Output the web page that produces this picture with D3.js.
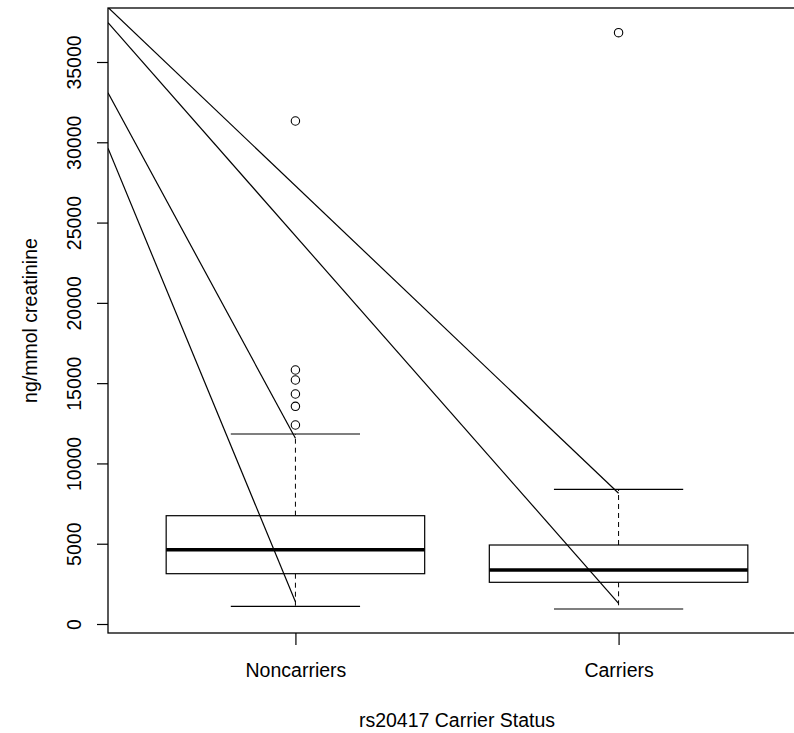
<!DOCTYPE html>
<html><head><meta charset="utf-8">
<script src="https://cdn.jsdelivr.net/npm/d3@7"></script>
<style>body{margin:0;background:#fff}svg{display:block}text{font-family:"Liberation Sans",Arial,sans-serif;fill:#000}</style>
</head><body><svg id="c" width="794" height="733"></svg>
<script>
const categories = ["Noncarriers","Carriers"];
const lowerWhisker = [1100, 934];
const q1 = [3133, 2597];
const median = [4627, 3363];
const q3 = [6745, 4920];
const upperWhisker = [11833, 8389];
const outliers = [[12393, 13558, 14324, 15196, 15819, 31326], [36825]];
const yTicks = [0, 5000, 10000, 15000, 20000, 25000, 30000, 35000];
const lineStarts = [38400, 37448, 33089, 29626];
const lineEndCats = ["Carriers", "Carriers", "Noncarriers", "Noncarriers"];
const lineEnds = [8140, 1289, 11565, 1389];
const yTitle = "ng/mmol creatinine";
const xTitle = "rs20417 Carrier Status";

const FS = "19.5px";
const svg = d3.select("#c");
const L = 108, R = 806, T = 8, B = 633;
const x = d3.scalePoint().domain(categories).range([L, R]).padding(0.58);
const y = d3.scaleLinear().domain([-560, 38363]).range([B, T]);
const step = x.step();

svg.append("defs").append("clipPath").attr("id","clip")
  .append("rect").attr("x",L).attr("y",T).attr("width",R-L).attr("height",B-T);

const g = svg.append("g");
const bx = g.append("g");
categories.forEach((c,i)=>{
  const cx = x(c);
  bx.append("line").attr("x1",cx).attr("x2",cx).attr("y1",y(q3[i])).attr("y2",y(upperWhisker[i]))
    .attr("stroke","#000").attr("stroke-dasharray","5,4");
  bx.append("line").attr("x1",cx).attr("x2",cx).attr("y1",y(q1[i])).attr("y2",y(lowerWhisker[i]))
    .attr("stroke","#000").attr("stroke-dasharray","5,4");
  [lowerWhisker[i], upperWhisker[i]].forEach(v=>{
    bx.append("line").attr("x1",cx-0.2*step).attr("x2",cx+0.2*step).attr("y1",y(v)).attr("y2",y(v))
      .attr("stroke","#000").attr("stroke-width",1.2);
  });
  bx.append("rect").attr("x",cx-0.4*step).attr("width",0.8*step)
    .attr("y",y(q3[i])).attr("height",y(q1[i])-y(q3[i]))
    .attr("fill","#fff").attr("stroke","#000").attr("stroke-width",1.2);
  bx.append("line").attr("x1",cx-0.4*step).attr("x2",cx+0.4*step).attr("y1",y(median[i])).attr("y2",y(median[i]))
    .attr("stroke","#000").attr("stroke-width",3.5);
  outliers[i].forEach(v=>{
    bx.append("circle").attr("cx",cx).attr("cy",y(v)).attr("r",4.2)
      .attr("fill","none").attr("stroke","#000").attr("stroke-width",1.1);
  });
});

const lg = g.append("g").attr("clip-path","url(#clip)");
lineStarts.forEach((s,i)=>{
  lg.append("line").attr("x1",L).attr("y1",y(s)).attr("x2",x(lineEndCats[i])).attr("y2",y(lineEnds[i]))
    .attr("stroke","#000").attr("stroke-width",1.2);
});

svg.append("rect").attr("x",L).attr("y",T).attr("width",R-L).attr("height",B-T)
  .attr("fill","none").attr("stroke","#000").attr("stroke-width",1.3);

const ya = svg.append("g").attr("transform",`translate(${L},0)`)
  .call(d3.axisLeft(y).tickValues(yTicks).tickSize(11).tickFormat(d3.format("d")));
ya.select(".domain").remove();
ya.selectAll(".tick line").attr("stroke","#000").attr("stroke-width",1.2);
ya.selectAll(".tick text").attr("x",0).attr("y",0).attr("dy",null)
  .attr("transform","translate(-27,0) rotate(-90)").attr("text-anchor","middle")
  .style("font-size",FS).style("font-family","Liberation Sans, Arial, sans-serif");

const xa = svg.append("g").attr("transform",`translate(0,${B})`)
  .call(d3.axisBottom(x).tickSize(12).tickSizeOuter(0));
xa.select(".domain").remove();
xa.selectAll(".tick line").attr("stroke","#000").attr("stroke-width",1.2);
xa.selectAll(".tick text").attr("y",44).attr("dy",null)
  .style("font-size",FS).style("font-family","Liberation Sans, Arial, sans-serif");

svg.append("text").attr("y",727).attr("text-anchor","middle")
  .style("font-size",FS).text(xTitle)
  .attr("x", (x("Carriers")+x("Noncarriers"))/2);
svg.append("text").attr("transform",`translate(37,${(T+B)/2}) rotate(-90)`).attr("text-anchor","middle")
  .style("font-size",FS).text(yTitle);
</script></body></html>
